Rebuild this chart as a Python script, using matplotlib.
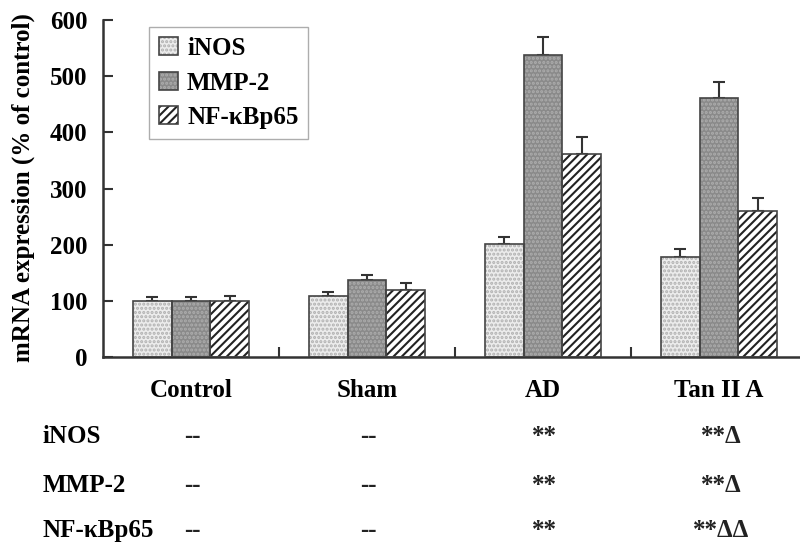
import matplotlib
matplotlib.use("Agg")
import matplotlib.pyplot as plt
import matplotlib.transforms as mtransforms
import numpy as np

# values
groups = ["Control", "Sham", "AD", "Tan II A"]
genes = ["iNOS", "MMP-2", "NF-κBp65"]

inos = [100, 108, 201, 178]
inos_err = [7, 8, 13, 14]
mmp2 = [100, 137, 538, 462]
mmp2_err = [6, 9, 32, 28]
nfkb = [100, 120, 361, 260]
nfkb_err = [9, 11, 31, 23]

sig_inos = ["--", "--", "**", "**Δ"]
sig_mmp2 = ["--", "--", "**", "**Δ"]
sig_nfkb = ["--", "--", "**", "**ΔΔ"]

yticks = [0, 100, 200, 300, 400, 500, 600]

plt.rcParams["font.family"] = ["Liberation Serif", "DejaVu Serif"]
plt.rcParams["font.weight"] = "bold"
plt.rcParams["hatch.linewidth"] = 1.5

FS = 18
DARK = "#333333"

fig = plt.figure(figsize=(8, 5.47), dpi=100)
ax = fig.add_axes([103 / 800, 190 / 547, 697 / 800, 337 / 547])

x = np.arange(len(groups))
width = 0.22

# (values, errors, facecolor, hatch, hatch colour)
series = [
    (inos, inos_err, "#ececec", "....", "#b0b0b0"),
    (mmp2, mmp2_err, "#8a8a8a", "....", "#adadad"),
    (nfkb, nfkb_err, "white", "////", "#222222"),
]

handles = []
for k, (vals, errs, fc, hatch, hc) in enumerate(series):
    pos = x + (k - 1) * width
    # texture layer, then outline on top
    tex = ax.bar(pos, vals, width, color=fc, edgecolor=hc, hatch=hatch,
                 linewidth=0, zorder=2)
    out = ax.bar(pos, vals, width, fill=False, edgecolor="#444444",
                 linewidth=1.2, zorder=3)
    ax.errorbar(pos, vals, yerr=[np.zeros(len(errs)), errs], fmt="none",
                ecolor=DARK, elinewidth=1.5, capsize=4, capthick=1.5, zorder=1)
    handles.append((tex[0], out[0]))

ax.set_xlim(-0.5, 3.46)
ax.set_ylim(0, 600)
ax.set_yticks(yticks)
ax.set_xticks([0.5, 1.5, 2.5])
ax.set_xticklabels([])
ax.tick_params(axis="y", direction="in", length=7, width=1.5, color=DARK,
               labelsize=FS, pad=11)
ax.tick_params(axis="x", direction="in", length=7, width=1.5, color=DARK)
for lab in ax.get_yticklabels():
    lab.set_fontweight("bold")

for side in ["top", "right"]:
    ax.spines[side].set_visible(False)
for side in ["left", "bottom"]:
    ax.spines[side].set_linewidth(1.8)
    ax.spines[side].set_color(DARK)

ax.set_ylabel("mRNA expression (% of control)", fontsize=FS, fontweight="bold")
ax.yaxis.set_label_coords(-0.098, 0.503)

leg = ax.legend(handles, genes, loc="upper left", bbox_to_anchor=(0.066, 0.979),
                borderaxespad=0, fontsize=FS, frameon=True, fancybox=False,
                edgecolor="#999999", handlelength=0.76, handleheight=0.72,
                handletextpad=0.36, labelspacing=0.46, borderpad=0.4)
leg.get_frame().set_linewidth(1.0)
for t in leg.get_texts():
    t.set_fontweight("bold")

# table of group names and significance marks under the axis
trans = mtransforms.blended_transform_factory(ax.transData, fig.transFigure)
for i, g in enumerate(groups):
    ax.text(i, 1 - 397 / 547, g, transform=trans, ha="center", va="baseline",
            fontsize=FS, fontweight="bold", clip_on=False)

rows = [(genes[0], sig_inos, 443), (genes[1], sig_mmp2, 492),
        (genes[2], sig_nfkb, 537)]
for name, marks, ypx in rows:
    yf = 1 - ypx / 547
    ax.text(-0.841, yf, name, transform=trans, ha="left", va="baseline",
            fontsize=FS, fontweight="bold", clip_on=False)
    for i, m in enumerate(marks):
        ax.text(i + 0.01, yf, m, transform=trans, ha="center", va="baseline",
                fontsize=FS, fontweight="bold", color="#222222", clip_on=False)

fig.savefig("out.png", dpi=100)
